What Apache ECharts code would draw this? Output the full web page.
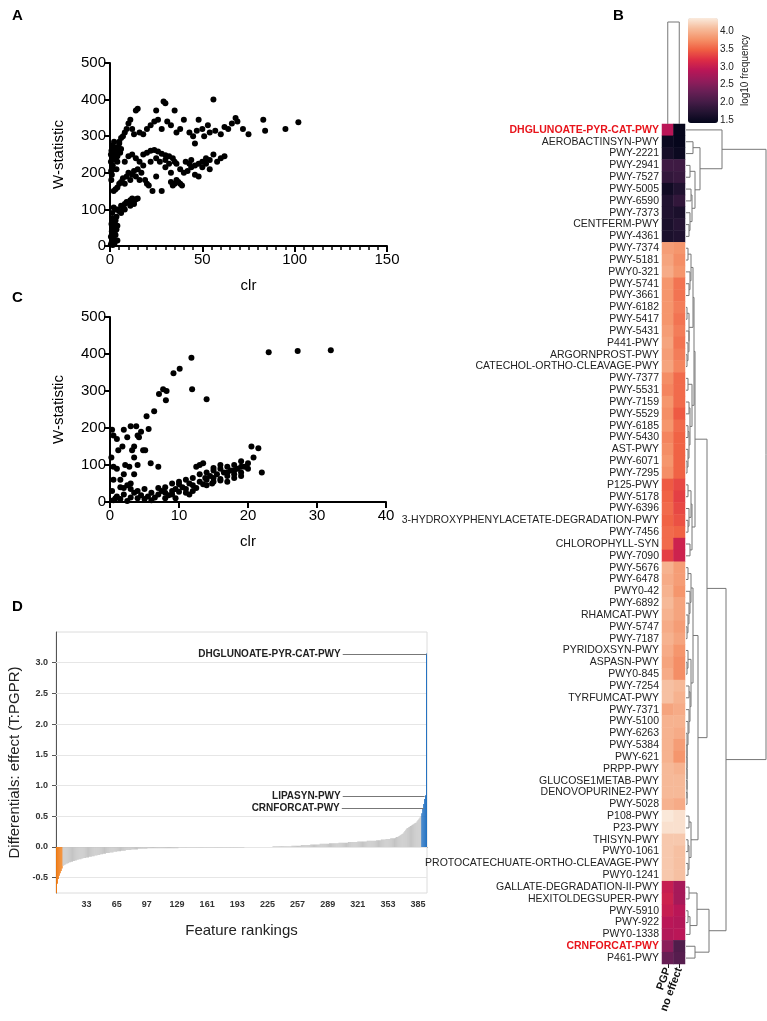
<!DOCTYPE html>
<html>
<head>
<meta charset="utf-8">
<script src="https://cdn.jsdelivr.net/npm/echarts@6/dist/echarts.min.js"></script>
<style>
  html, body { margin: 0; padding: 0; background: #fff; }
  #main { width: 767px; height: 1021px; }
</style>
</head>
<body>
<div id="main"></div>
<script>
// ---- panel A: clr vs W-statistic ----
var scatterA = [
  [0.5,5],[1,12],[1.5,3],[2,20],[2.5,8],[3,30],[1,40],[2,50],[3.5,45],[0.8,60],[2.2,65],[3,70],[4,55],[1.5,75],[3.5,80],[0.5,25],[4,15],[2.5,35],[1.2,90],[3,100],[2,105],
  [0.7,180],[1,195],[1.5,210],[0.5,230],[1,245],[2,240],[2.5,255],[3,250],[0.8,260],[1.8,265],[2.8,270],[3.5,260],[4,245],[1.2,275],[2.2,285],[3,235],[0.5,250],[4.5,270],[5,280],[5.5,255],[6,265],[4,230],[1.5,220],[0.6,205],[2,150],[3,155],[4,160],[5,170],[3.5,210],
  [4,100],[5,95],[6,110],[7,105],[8,115],[9,120],[10,118],[11,125],[12,130],[13,122],[14,128],[15,130],[6,90],[8,100],[11,110],[13,115],
  [6,175],[7,185],[8,170],[9,190],[10,200],[11,180],[12,195],[13,205],[14,190],[15,210],[16,180],[17,200],[18,220],[19,180],[20,170],[21,165],[22,230],[23,150],[25,190],[28,150],[30,215],[32,225],[33,200],[35,170],[36,180],[37,175],[38,170],[39,165],[34,165],[33,175],
  [8,230],[10,245],[12,250],[14,240],[16,230],[18,250],[20,255],[22,260],[24,262],[26,258],[28,252],[30,248],[32,245],[34,240],[35,230],[36,225],[38,210],[40,200],[42,205],[44,215],[46,220],[48,225],[50,230],[52,240],[54,235],[56,250],[58,230],[60,240],[62,245],[44,235],[46,195],[48,190],[50,215],[52,225],[54,210],[41,230],[43,225],[30,235],[25,240],[27,230],
  [5,285],[6,295],[7,300],[8,310],[9,320],[10,335],[11,345],[12,320],[13,305],[14,370],[15,375],[16,310],[18,305],[20,320],[22,330],[24,340],[25,370],[26,345],[28,320],[29,395],[30,390],[31,340],[33,330],[35,370],[36,310],[38,320],[40,345],[43,310],[45,300],[46,280],[47,315],[48,345],[50,320],[51,300],[53,330],[54,310],[56,400],[57,315],[60,305],[62,325],[64,320],[66,335],[68,350],[69,340],[72,320],[75,305],[83,345],[84,315],[95,320],[102,338]
];

// ---- panel C: clr vs W-statistic ----
var scatterC = [
  [0.3,195],[0.5,180],[1,170],[0.2,120],[0.5,95],[1,90],[1.5,60],[0.3,30],[0.8,10],[0.5,60],[1.2,140],[1.8,150],[2,195],[2.5,175],[3,205],[2.2,100],[2.8,95],[3.2,140],[3.5,150],[1.5,40],[2.5,45],[3.5,120],[4,180],[4.5,190],[4.2,175],[3.8,205],[4,100],[4.8,140],[3,50],[2,75],[3.5,75],
  [5.3,232],[5.6,197],[5.9,105],[5.1,140],[6.4,245],[7.1,292],[7.7,305],[8.2,300],[8.1,275],[9.2,348],[10.1,360],[11.8,390],[11.9,305],[14,278],[7,95],
  [23,405],[27.2,408],[32,410],
  [0.5,5],[1,15],[1.5,8],[2,20],[2.5,3],[3,12],[3.5,25],[4,10],[4.5,18],[5,8],[5.5,15],[6,25],[6.5,12],[7,20],[7.5,30],[8,25],[8.5,18],[9,30],[9.5,35],[10,28],[10.5,40],[11,35],[11.5,50],[12,45],[12.5,38],[13,55],[13.5,48],[14,60],[14.5,70],[15,65],[15.5,75],[16,58],[16.5,80],[17,70],[17.5,85],[18,75],[18.5,90],[19,80],[19.5,95],[20,105],[20.5,150],[21.5,145],[20.8,120],[22,80],
  [13,100],[13.5,105],[12.5,95],[15,85],[16,90],[17,95],[18,100],[19,110],[14,45],[15,55],[16,62],[17,55],[18,65],[19,70],[11,25],[12,30],[10,55],[9,20],[8,10],[6,5],[4,30],[3,35],[2,38],[5,35],[7,38],[8,40],[9,50],[10,48],[11,60],[12,65],[13,75],[14,80],[15,92],[16,100],[17,80],[18,85],[19,95],[20,90],[13.8,65],[14.8,50],[9.5,10],[11.5,20]
];

// ---- panel D: ranked differentials ----
var effects = [
  -0.75,-0.6,-0.52,-0.47,-0.43,-0.39,-0.35,
  -0.31,-0.3,-0.29,-0.28,-0.27,-0.27,-0.26,-0.25,-0.25,-0.24,-0.24,-0.23,-0.23,-0.22,-0.22,-0.21,-0.21,-0.2,-0.2,-0.2,-0.19,-0.19,-0.18,
  -0.18,-0.18,-0.17,-0.17,-0.17,-0.16,-0.16,-0.16,-0.15,-0.15,-0.15,-0.14,-0.14,-0.14,-0.13,-0.13,-0.13,-0.12,-0.12,-0.12,-0.11,-0.11,-0.11,-0.1,-0.1,-0.1,-0.1,-0.09,-0.09,-0.09,
  -0.09,-0.08,-0.08,-0.08,-0.08,-0.07,-0.07,-0.07,-0.07,-0.06,-0.06,-0.06,-0.06,-0.06,-0.05,-0.05,-0.05,-0.05,-0.05,-0.05,
  -0.04,-0.04,-0.04,-0.04,-0.04,-0.04,-0.04,-0.03,-0.03,-0.03,-0.03,-0.03,-0.03,-0.03,-0.03,-0.03,-0.03,-0.02,-0.02,-0.02,
  -0.02,-0.02,-0.02,-0.02,-0.02,-0.02,-0.02,-0.02,-0.02,-0.02,-0.02,-0.02,-0.02,-0.02,-0.02,-0.02,-0.02,-0.02,-0.02,-0.02,
  -0.02,-0.02,-0.02,-0.02,-0.02,-0.02,-0.02,-0.02,-0.02,-0.02,-0.01,-0.01,-0.01,-0.01,-0.01,-0.01,-0.01,-0.01,-0.01,-0.01,
  -0.01,-0.01,-0.01,-0.01,-0.01,-0.01,-0.01,-0.01,-0.01,-0.01,-0.01,-0.01,-0.01,-0.01,-0.01,-0.01,-0.01,-0.01,-0.01,-0.01,
  -0.01,-0.01,-0.01,-0.01,-0.01,-0.01,-0.01,-0.01,-0.01,-0.01,-0.01,-0.01,-0.01,-0.01,-0.01,-0.01,-0.01,-0.01,-0.01,-0.01,
  -0.01,-0.01,-0.01,-0.01,-0.01,-0.01,-0.01,-0.01,-0.01,-0.01,-0.01,-0.01,-0.01,-0.01,-0.01,-0.01,-0.01,-0.01,-0.01,-0.01,
  0,0,0,0,0,0,0,0,0,0,0,0,0,0,0,0,0,0,0,0,0,0,0,0,0,0,0,0,0,0,
  0.01,0.01,0.01,0.01,0.01,0.01,0.01,0.01,0.01,0.01,0.01,0.01,0.01,0.01,0.01,0.01,0.01,0.01,0.01,0.01,
  0.02,0.02,0.02,0.02,0.02,0.02,0.02,0.02,0.02,0.02,0.03,0.03,0.03,0.03,0.03,0.03,0.03,0.03,0.03,0.03,
  0.04,0.04,0.04,0.04,0.04,0.04,0.04,0.04,0.04,0.04,
  0.05,0.05,0.05,0.05,0.05,0.05,0.05,0.05,0.05,0.05,0.06,0.06,0.06,0.06,0.06,0.06,0.06,0.06,0.06,0.06,
  0.07,0.07,0.07,0.07,0.07,0.07,0.07,0.07,0.07,0.07,0.08,0.08,0.08,0.08,0.08,0.08,0.08,0.08,0.08,0.08,
  0.09,0.09,0.09,0.09,0.09,0.09,0.09,0.09,0.09,0.09,0.1,0.1,0.1,0.1,0.1,0.1,0.1,0.1,0.1,0.1,
  0.11,0.11,0.11,0.11,0.11,0.12,0.12,0.12,0.12,0.12,0.13,0.13,0.13,0.13,0.13,0.14,0.14,0.14,0.14,0.14,
  0.15,0.16,0.16,0.17,0.18,0.19,0.2,0.21,0.22,0.24,0.26,0.28,0.3,0.31,0.32,0.33,0.34,0.35,0.36,0.37,0.38,0.39,0.4,0.42,0.44,0.46,0.48,0.5,
  0.55,0.62,0.7,0.78,0.84,3.15
];
var negHighlight = 7;
var posHighlight = 6;
var rankLabels = effects.map(function (v, i) { return String(i + 1); });
var annotations = [
  { name: 'DHGLUNOATE-PYR-CAT-PWY', from: 304, to: 393, value: 3.13 },
  { name: 'LIPASYN-PWY', from: 304, to: 391, value: 0.83 },
  { name: 'CRNFORCAT-PWY', from: 303, to: 390, value: 0.63 }
];
var gridValuesD = [-0.5, 0, 0.5, 1, 1.5, 2, 2.5, 3];

// ---- panel B: heatmap ----
var pathways = [
  'DHGLUNOATE-PYR-CAT-PWY','AEROBACTINSYN-PWY','PWY-2221','PWY-2941','PWY-7527','PWY-5005','PWY-6590','PWY-7373','CENTFERM-PWY','PWY-4361',
  'PWY-7374','PWY-5181','PWY0-321','PWY-5741','PWY-3661','PWY-6182','PWY-5417','PWY-5431','P441-PWY','ARGORNPROST-PWY','CATECHOL-ORTHO-CLEAVAGE-PWY',
  'PWY-7377','PWY-5531','PWY-7159','PWY-5529','PWY-6185','PWY-5430','AST-PWY','PWY-6071','PWY-7295',
  'P125-PWY','PWY-5178','PWY-6396','3-HYDROXYPHENYLACETATE-DEGRADATION-PWY','PWY-7456','CHLOROPHYLL-SYN','PWY-7090',
  'PWY-5676','PWY-6478','PWY0-42','PWY-6892','RHAMCAT-PWY','PWY-5747','PWY-7187','PYRIDOXSYN-PWY','ASPASN-PWY','PWY0-845',
  'PWY-7254','TYRFUMCAT-PWY','PWY-7371','PWY-5100','PWY-6263','PWY-5384','PWY-621','PRPP-PWY','GLUCOSE1METAB-PWY','DENOVOPURINE2-PWY','PWY-5028',
  'P108-PWY','P23-PWY','THISYN-PWY','PWY0-1061','PROTOCATECHUATE-ORTHO-CLEAVAGE-PWY','PWY0-1241',
  'GALLATE-DEGRADATION-II-PWY','HEXITOLDEGSUPER-PWY','PWY-5910','PWY-922','PWY0-1338','CRNFORCAT-PWY','P461-PWY'
];
var highlighted = ['DHGLUNOATE-PYR-CAT-PWY', 'CRNFORCAT-PWY'];
var groups = ['PGP', 'no effect'];
var freqPGP = [
  2.9,1.5,1.6,1.95,1.85,1.55,1.7,1.7,1.65,1.65,
  3.85,3.9,3.95,3.8,3.8,3.8,3.8,3.85,3.9,3.85,3.9,
  3.75,3.7,3.8,3.75,3.8,3.7,3.75,3.8,3.75,
  3.45,3.5,3.55,3.5,3.55,3.55,3.3,
  4.0,3.95,4.0,4.05,4.0,3.95,4.0,3.95,3.9,3.95,
  4.1,4.1,3.9,4.0,4.0,4.0,4.0,4.05,4.05,4.05,4.0,
  4.35,4.3,4.15,4.15,4.15,4.15,
  3.0,3.05,3.0,2.9,2.85,2.55,2.3
];
var freqNoEffect = [
  1.45,1.45,1.5,1.95,1.9,1.7,1.85,1.65,1.75,1.7,
  3.8,3.75,3.8,3.6,3.6,3.65,3.6,3.65,3.6,3.65,3.7,
  3.55,3.55,3.55,3.45,3.55,3.5,3.5,3.5,3.5,
  3.35,3.3,3.35,3.4,3.5,3.05,3.05,
  3.85,3.85,3.8,3.9,3.9,3.85,3.9,3.8,3.75,3.75,
  4.05,4.0,3.95,4.0,3.95,3.85,3.8,4.0,4.05,4.05,3.95,
  4.3,4.3,4.15,4.1,4.1,4.1,
  2.75,2.75,2.9,2.85,2.9,2.1,2.15
];
var colorTicks = [1.5, 2.0, 2.5, 3.0, 3.5, 4.0];

// row dendrogram: [left, right, height], leaves are row indexes
var treeDark = [0, [[1, 2, 7], [[3, 4, 4], [[5, 6, 5], [7, [8, 9, 3], 4], 6], 9], 14], 36];
var treeO1 = [[[10, 11, 2], [12, [13, 14, 3], 4], 5], [[15, 16, 1], [17, [18, [19, 20, 1], 2], 3], 3], 7];
var treeO2 = [[21, 22, 2], [[23, 24, 3], [[25, 26, 2], [27, [28, 29, 1], 2], 3], 4], 6];
var treeO3 = [[[30, 31, 2], [32, [33, 34, 2], 3], 5], [35, 36, 4], 6];
var treeO4a = [[37, 38, 2], [39, [40, [41, [42, 43, 1], 2], 3], 4], 5];
var treeO4b = [[44, [45, 46, 1], 2], [[47, 48, 3], [49, [50, [51, [52, [53, [54, [55, [56, 57, 1], 1], 1], 1], 1], 1], 2], 3], 4], 5];
var treePale = [[58, 59, 3], [[60, 61, 2], [62, 63, 2], 3], 5];
var treeRed = [[[64, 65, 3], [[66, 67, 2], 68, 4], 11], [69, 70, 9], 23];
var treeOrange = [[[treeO1, treeO2, 8], treeO3, 9], [[treeO4a, treeO4b, 7], treePale, 12], 21];
var rowTree = [treeDark, [treeOrange, treeRed, 40], 80];
var colTreeHeight = 1;

var rocket = ['#03051a', '#221331', '#451c47', '#691f55', '#921c5b', '#b91657', '#dd2c45', '#f06043', '#f5936a', '#f6bc9c', '#faebdd'];

// flatten the tree into U-shaped links [hLeft, yLeft, h, yRight, hRight]
var treeLinks = [];
function walk(node) {
  if (typeof node === 'number') return { y: node, h: 0 };
  var l = walk(node[0]), r = walk(node[1]);
  treeLinks.push([l.h, l.y, node[2], r.y, r.h]);
  return { y: (l.y + r.y) / 2, h: node[2] };
}
walk(rowTree);

var heatData = [];
pathways.forEach(function (p, i) {
  heatData.push([0, i, freqPGP[i]]);
  heatData.push([1, i, freqNoEffect[i]]);
});

var font = 'Liberation Sans, Arial, sans-serif';

function scatterAxes(xMax, xInterval, minor, gi) {
  return {
    x: {
      type: 'value', gridIndex: gi, min: 0, max: xMax, interval: xInterval,
      axisLine: { lineStyle: { color: '#000', width: 2 } },
      axisTick: { show: true, length: 6, lineStyle: { color: '#000', width: 2 } },
      minorTick: { show: minor, splitNumber: 10, length: 4, lineStyle: { color: '#000', width: 1.5 } },
      axisLabel: { color: '#000', fontSize: 15, fontFamily: font, margin: 6 },
      splitLine: { show: false },
      name: 'clr', nameLocation: 'middle', nameGap: 32,
      nameTextStyle: { color: '#000', fontSize: 15, fontFamily: font }
    },
    y: {
      type: 'value', gridIndex: gi, min: 0, max: 500, interval: 100,
      axisLine: { show: true, lineStyle: { color: '#000', width: 2 } },
      axisTick: { show: true, length: 6, lineStyle: { color: '#000', width: 2 } },
      axisLabel: { color: '#000', fontSize: 15, fontFamily: font, margin: 4 },
      splitLine: { show: false },
      name: 'W-statistic', nameLocation: 'middle', nameGap: 44,
      nameTextStyle: { color: '#000', fontSize: 15, fontFamily: font }
    }
  };
}
var axA = scatterAxes(150, 50, true, 0);
var axC = scatterAxes(40, 10, false, 1);

var option = {
  animation: false,
  backgroundColor: '#fff',
  grid: [
    { left: 110, width: 277, top: 63, height: 183 },
    { left: 110, width: 276, top: 317, height: 185 },
    { left: 56, width: 371, top: 632, height: 261, show: true, borderColor: '#dcdcdc', borderWidth: 1 },
    { left: 662, width: 23, top: 124, height: 840 },
    { left: 686, width: 81, top: 124, height: 840 },
    { left: 662, width: 23, top: 22, height: 102 },
    { left: 688, width: 30, top: 18, height: 105 }
  ],
  xAxis: [
    axA.x, axC.x,
    {
      type: 'category', gridIndex: 2, data: rankLabels, boundaryGap: true,
      axisLine: { lineStyle: { color: '#555' } },
      axisTick: { show: false },
      axisLabel: {
        interval: function (idx) { return idx > 0 && (idx + 1) % 32 === 1; },
        color: '#333', fontSize: 9, fontWeight: 'bold', fontFamily: font, margin: 7
      },
      name: 'Feature rankings', nameLocation: 'middle', nameGap: 30,
      nameTextStyle: { color: '#222', fontSize: 15, fontFamily: font }
    },
    {
      type: 'category', gridIndex: 3, data: groups, position: 'bottom',
      axisLine: { show: false }, axisTick: { show: true, length: 4, alignWithLabel: true, lineStyle: { color: '#222' } },
      axisLabel: { interval: 0, hideOverlap: false, rotate: 70, color: '#111', fontSize: 11, fontWeight: 'bold', fontFamily: font, margin: 4 }
    },
    { type: 'value', gridIndex: 4, min: 0, max: 81, show: false },
    { type: 'value', gridIndex: 5, min: -0.5, max: 1.5, show: false },
    { type: 'value', gridIndex: 6, min: 0, max: 1, show: false }
  ],
  yAxis: [
    axA.y, axC.y,
    {
      type: 'value', gridIndex: 2, min: -0.75, max: 3.5,
      axisLine: { show: true, lineStyle: { color: '#555' } },
      axisTick: { show: true, customValues: gridValuesD, length: 4, lineStyle: { color: '#555' } },
      axisLabel: {
        customValues: gridValuesD, color: '#333', fontSize: 9, fontWeight: 'bold', fontFamily: font,
        formatter: function (v) { return v.toFixed(1); }
      },
      splitLine: { show: false },
      name: 'Differentials: effect (T:PGPR)', nameLocation: 'middle', nameGap: 34,
      nameTextStyle: { color: '#222', fontSize: 15, fontFamily: font }
    },
    {
      type: 'category', gridIndex: 3, data: pathways, inverse: true,
      axisLine: { show: false }, axisTick: { show: false },
      axisLabel: {
        interval: 0, fontSize: 10.5, fontFamily: font, color: '#222', margin: 3,
        formatter: function (v) { return highlighted.indexOf(v) >= 0 ? '{hl|' + v + '}' : v; },
        rich: { hl: { color: '#e8141b', fontWeight: 'bold', fontSize: 10.5, fontFamily: font } }
      }
    },
    { type: 'value', gridIndex: 4, min: -0.5, max: 70.5, inverse: true, show: false },
    { type: 'value', gridIndex: 5, min: 0, max: 1, show: false },
    {
      type: 'value', gridIndex: 6, min: 1.42, max: 4.37, position: 'right',
      axisLine: { show: false },
      axisTick: { show: true, customValues: colorTicks, length: 3, lineStyle: { color: '#333' } },
      axisLabel: { customValues: colorTicks, color: '#222', fontSize: 10, fontFamily: font, margin: 2,
        formatter: function (v) { return v.toFixed(1); } },
      splitLine: { show: false },
      name: 'log10 frequency', nameLocation: 'middle', nameGap: 22, nameRotate: 90,
      nameTextStyle: { color: '#222', fontSize: 10, fontFamily: font }
    }
  ],
  visualMap: {
    type: 'continuous', seriesIndex: 3, min: 1.42, max: 4.37,
    left: 688, top: 18, itemWidth: 30, itemHeight: 105, calculable: false,
    text: ['', ''], showLabel: false, padding: 0,
    inRange: { color: rocket }
  },
  graphic: [
    { type: 'text', left: 12, top: 8, style: { text: 'A', font: 'bold 15px ' + font, fill: '#000' } },
    { type: 'text', left: 12, top: 290, style: { text: 'C', font: 'bold 15px ' + font, fill: '#000' } },
    { type: 'text', left: 12, top: 599, style: { text: 'D', font: 'bold 15px ' + font, fill: '#000' } },
    { type: 'text', left: 613, top: 8, style: { text: 'B', font: 'bold 15px ' + font, fill: '#000' } }
  ],
  series: [
    { type: 'scatter', xAxisIndex: 0, yAxisIndex: 0, data: scatterA, symbolSize: 6, itemStyle: { color: '#000', opacity: 1 } },
    { type: 'scatter', xAxisIndex: 1, yAxisIndex: 1, data: scatterC, symbolSize: 6, itemStyle: { color: '#000', opacity: 1 } },
    {
      type: 'bar', xAxisIndex: 2, yAxisIndex: 2, data: effects, barCategoryGap: 0,
      itemStyle: {
        color: function (p) {
          if (p.dataIndex < negHighlight) return '#f07a12';
          if (p.dataIndex >= effects.length - posHighlight) return '#1f6fc0';
          return '#c4c4c4';
        }
      },
      markLine: {
        silent: true, symbol: 'none', z: 1,
        lineStyle: { color: '#e6e6e6', type: 'solid', width: 1 },
        label: { show: false },
        data: gridValuesD.map(function (v) { return { yAxis: v }; })
      }
    },
    {
      type: 'heatmap', xAxisIndex: 3, yAxisIndex: 3, data: heatData
    },
    {
      type: 'custom', xAxisIndex: 4, yAxisIndex: 4, data: treeLinks, silent: true,
      renderItem: function (params, api) {
        var a = api.coord([api.value(0), api.value(1)]);
        var b = api.coord([api.value(2), api.value(1)]);
        var c = api.coord([api.value(2), api.value(3)]);
        var d = api.coord([api.value(4), api.value(3)]);
        return { type: 'polyline', shape: { points: [a, b, c, d] }, style: { stroke: '#777', lineWidth: 1, fill: null } };
      }
    },
    {
      type: 'custom', xAxisIndex: 5, yAxisIndex: 5, data: [[0, 0, colTreeHeight, 1, 0]], silent: true,
      renderItem: function (params, api) {
        var a = api.coord([api.value(0), api.value(1)]);
        var b = api.coord([api.value(0), api.value(2)]);
        var c = api.coord([api.value(3), api.value(2)]);
        var d = api.coord([api.value(3), api.value(4)]);
        return { type: 'polyline', shape: { points: [a, b, c, d] }, style: { stroke: '#777', lineWidth: 1, fill: null } };
      }
    },
    { type: 'scatter', xAxisIndex: 6, yAxisIndex: 6, data: [] },
    {
      type: 'line', xAxisIndex: 2, yAxisIndex: 2, data: [], silent: true,
      markLine: {
        symbol: 'none', silent: true,
        lineStyle: { color: '#777', type: 'solid', width: 1 },
        label: { show: true, position: 'start', distance: 2, color: '#222', fontSize: 10, fontWeight: 'bold', fontFamily: font,
          formatter: function (p) { return p.name; } },
        data: annotations.map(function (a) {
          return [{ name: a.name, coord: [a.from, a.value] }, { coord: [a.to, a.value] }];
        })
      }
    }
  ]
};

var chart = echarts.init(document.getElementById('main'));
chart.setOption(option);
</script>
</body>
</html>
